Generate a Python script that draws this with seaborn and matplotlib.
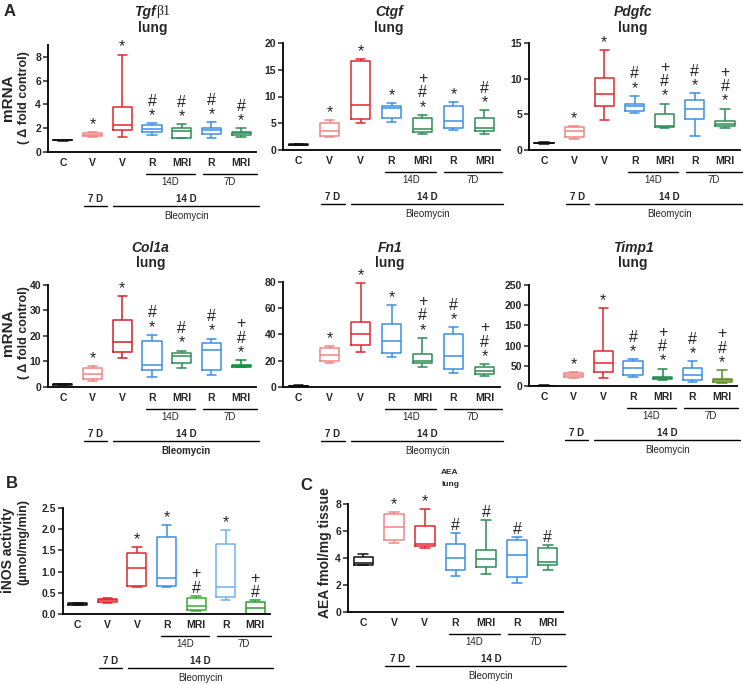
import numpy as np
import pandas as pd
import matplotlib
matplotlib.use("Agg")
import matplotlib.pyplot as plt
import matplotlib.transforms as mtransforms
import seaborn as sns

# five-number summaries (min, q1, median, q3, max) per group
groups = ["C", "V", "V", "R", "MRI", "R", "MRI"]

tgfb1 = [[0.95, 0.98, 1.0, 1.02, 1.05], [1.3, 1.35, 1.45, 1.6, 1.7], [1.3, 1.85, 2.25, 3.8, 8.2],
         [1.4, 1.65, 1.95, 2.3, 2.4], [1.15, 1.2, 1.75, 2.05, 2.35], [1.2, 1.5, 1.85, 2.05, 2.5],
         [1.3, 1.45, 1.6, 1.7, 2.0]]
ctgf = [[0.85, 0.9, 1.0, 1.1, 1.15], [2.5, 2.7, 3.5, 5.1, 5.6], [5.0, 5.8, 8.4, 16.6, 17.0],
        [5.2, 5.9, 7.8, 8.3, 8.8], [3.0, 3.3, 3.9, 5.9, 6.6], [3.7, 4.1, 5.5, 8.3, 8.9],
        [3.0, 3.6, 4.1, 5.9, 7.4]]
pdgfc = [[0.9, 0.95, 1.0, 1.05, 1.1], [1.6, 1.8, 2.7, 3.2, 3.4], [4.2, 6.1, 7.8, 10.1, 14.0],
         [5.2, 5.4, 6.1, 6.5, 7.6], [3.1, 3.2, 3.3, 5.1, 6.5], [2.0, 4.4, 5.7, 7.0, 8.0],
         [3.1, 3.3, 3.7, 4.1, 5.8]]
col1a = [[0.7, 0.85, 1.0, 1.15, 1.3], [2.3, 3.2, 5.0, 7.4, 8.3], [11.5, 13.8, 17.6, 26.3, 35.6],
         [4.0, 6.8, 8.8, 18.0, 20.5], [7.5, 9.3, 12.0, 13.2, 14.3], [4.8, 6.6, 14.4, 17.1, 19.0],
         [7.8, 8.0, 8.2, 8.7, 10.6]]
fn1 = [[0.4, 0.6, 0.8, 1.0, 1.2], [18.5, 19.5, 24.0, 30.0, 31.0], [27.0, 32.0, 40.5, 49.5, 79.0],
       [23.0, 26.0, 35.0, 48.0, 62.5], [15.0, 18.0, 19.5, 25.0, 37.5], [11.0, 14.0, 23.5, 40.5, 45.5],
       [8.0, 10.0, 12.0, 15.0, 17.5]]
timp1 = [[0.5, 0.8, 1.0, 1.2, 1.5], [20, 22, 26, 32, 35], [20, 35, 57, 87, 193],
         [22, 28, 44, 62, 67], [14, 17, 20, 23, 43], [11, 15, 26, 45, 61],
         [8, 11, 14, 17, 39]]
inos = [[0.21, 0.22, 0.24, 0.25, 0.26], [0.27, 0.29, 0.33, 0.36, 0.38], [0.64, 0.67, 1.08, 1.43, 1.57],
        [0.63, 0.65, 0.84, 1.81, 2.09], [0.08, 0.10, 0.19, 0.38, 0.43], [0.33, 0.39, 0.63, 1.66, 1.97],
        [0.0, 0.0, 0.14, 0.28, 0.32]]
aea = [[3.45, 3.5, 3.6, 4.1, 4.3], [5.1, 5.3, 6.3, 7.25, 7.4], [4.75, 4.9, 5.05, 6.4, 7.6],
       [2.65, 3.1, 4.0, 5.05, 5.85], [2.8, 3.3, 3.95, 4.6, 6.85], [2.15, 2.6, 4.2, 5.3, 5.55],
       [3.1, 3.45, 3.7, 4.75, 5.0]]

tgfb1_marks = ["", "*", "*", "#\n*", "#\n*", "#\n*", "#\n*"]
ctgf_marks = ["", "*", "*", "*", "+\n#\n*", "*", "#\n*"]
pdgfc_marks = ["", "*", "*", "#\n*", "+\n#\n*", "#\n*", "+\n#\n*"]
col1a_marks = ["", "*", "*", "#\n*", "#\n*", "#\n*", "+\n#\n*"]
fn1_marks = ["", "*", "*", "*", "+\n#\n*", "#\n*", "+\n#\n*"]
timp1_marks = ["", "*", "*", "#\n*", "+\n#\n*", "#\n*", "+\n#\n*"]
inos_marks = ["", "", "*", "*", "+\n#", "*", "+\n#"]
aea_marks = ["", "*", "*", "#", "#", "#", "#"]

base_pal = ["#111111", "#F08585", "#E3262B", "#3A8FE6", "#2E8B57", "#3A8FE6", "#2E8B57"]
col1a_pal = ["#111111", "#F08585", "#D11F2A", "#3A8FE6", "#2E8B57", "#3A8FE6", "#0F8A3A"]
timp1_pal = ["#111111", "#F08585", "#E3262B", "#3A8FE6", "#1E8C4E", "#3A8FE6", "#5C8C1E"]
inos_pal = ["#111111", "#E3262B", "#E3262B", "#3A8FE6", "#3AAA35", "#6DB3F2", "#2E9E2E"]

sns.set_theme(style="ticks")
plt.rcParams["font.family"] = ["Liberation Sans", "DejaVu Sans"]

W, H = 743, 685
fig = plt.figure(figsize=(W / 100, H / 100), dpi=100)


def add_ax(left, top, right, bottom):
    return fig.add_axes([left / W, 1 - bottom / H, (right - left) / W, (bottom - top) / H])


def ftext(x, y, s, **kw):
    fig.text(x / W, 1 - y / H, s, **kw)


def below(ax, dy):
    tr = mtransforms.blended_transform_factory(ax.transData, ax.transAxes)
    return tr + mtransforms.ScaledTranslation(0, -dy / 100, fig.dpi_scale_trans)


def draw_panel(ax, values, marks, pal, ylim, yticks, fmt="{:g}", bold_bleo=False):
    keys = [f"g{i}" for i in range(len(groups))]
    df = pd.DataFrame({"group": np.repeat(keys, 5), "value": np.concatenate(values)})
    sns.boxplot(data=df, x="group", y="value", hue="group", order=keys, hue_order=keys,
                palette=pal, fill=False, whis=(0, 100), width=0.64, linewidth=1.1,
                showfliers=False, legend=False, ax=ax)
    ax.set_xlim(-0.5, 6.5)
    ax.set_ylim(*ylim)
    ax.set_yticks(yticks)
    ax.set_yticklabels([fmt.format(t) for t in yticks], fontweight="bold", fontsize=7.5)
    ax.set_xticks(range(len(groups)))
    ax.set_xticklabels(groups, fontweight="bold", fontsize=7.5)
    ax.set_xlabel("")
    ax.set_ylabel("")
    ax.tick_params(axis="x", length=0, pad=4)
    ax.tick_params(axis="y", length=3.5, width=1.1, pad=1.5)
    for side in ["top", "right"]:
        ax.spines[side].set_visible(False)
    for side in ["left", "bottom"]:
        ax.spines[side].set_linewidth(1.3)
        ax.spines[side].set_color("black")

    for i, m in enumerate(marks):
        if m:
            ax.annotate(m, (i, values[i][4]), xytext=(0, 0), textcoords="offset points",
                        ha="center", va="bottom", fontsize=11.5, linespacing=0.95)

    # group bars under the axis
    kw = dict(color="black", lw=1.0, clip_on=False)
    ax.plot([2.8, 4.45], [0, 0], transform=below(ax, 22), **kw)
    ax.plot([4.7, 6.55], [0, 0], transform=below(ax, 22), **kw)
    ax.text(3.62, 0, "14D", transform=below(ax, 30), ha="center", va="center", fontsize=7)
    ax.text(5.62, 0, "7D", transform=below(ax, 30), ha="center", va="center", fontsize=7)
    ax.plot([0.72, 1.5], [0, 0], transform=below(ax, 54), **kw)
    ax.plot([1.7, 6.6], [0, 0], transform=below(ax, 54), **kw)
    ax.text(1.1, 0, "7 D", transform=below(ax, 47), ha="center", va="center",
            fontsize=7, fontweight="bold")
    ax.text(4.15, 0, "14 D", transform=below(ax, 47), ha="center", va="center",
            fontsize=7, fontweight="bold")
    ax.text(4.15, 0, "Bleomycin", transform=below(ax, 64), ha="center", va="center",
            fontsize=7, fontweight="bold" if bold_bleo else "normal")


# Panel A, row 1
ax1 = add_ax(48, 45, 256, 152)
draw_panel(ax1, tgfb1, tgfb1_marks, base_pal, (0, 9), [0, 2, 4, 6, 8])
ax2 = add_ax(283, 43, 500, 150)
draw_panel(ax2, ctgf, ctgf_marks, base_pal, (0, 20), [0, 5, 10, 15, 20])
ax3 = add_ax(529, 43, 740, 150)
draw_panel(ax3, pdgfc, pdgfc_marks, base_pal, (0, 15), [0, 5, 10, 15])

# Panel A, row 2
ax4 = add_ax(48, 285, 256, 387)
draw_panel(ax4, col1a, col1a_marks, col1a_pal, (0, 40), [0, 10, 20, 30, 40], bold_bleo=True)
ax5 = add_ax(283, 282, 500, 387)
draw_panel(ax5, fn1, fn1_marks, base_pal, (0, 80), [0, 20, 40, 60, 80])
ax6 = add_ax(529, 285, 737, 386)
draw_panel(ax6, timp1, timp1_marks, timp1_pal, (0, 250), [0, 50, 100, 150, 200, 250])

# Panel B and C
ax7 = add_ax(63, 508, 270, 614)
draw_panel(ax7, inos, inos_marks, inos_pal, (0, 2.5), [0, 0.5, 1.0, 1.5, 2.0, 2.5], fmt="{:.1f}")
ax8 = add_ax(348, 504, 563, 612)
draw_panel(ax8, aea, aea_marks, base_pal, (0, 8), [0, 2, 4, 6, 8])

# titles
tkw = dict(ha="center", va="center", fontsize=10, fontweight="bold")
ftext(156, 12, "Tgf", ha="right", va="center", fontsize=10, fontweight="bold", style="italic")
ftext(156, 12, "β1", ha="left", va="center", fontsize=10, family="Liberation Serif")
ftext(389, 12, "Ctgf", style="italic", **tkw)
ftext(633, 12, "Pdgfc", style="italic", **tkw)
for x in [153, 389, 633]:
    ftext(x, 28, "lung", **tkw)
ftext(150, 248, "Col1a", style="italic", **tkw)
ftext(390, 248, "Fn1", style="italic", **tkw)
ftext(633, 248, "Timp1", style="italic", **tkw)
for x in [151, 390, 633]:
    ftext(x, 263, "lung", **tkw)
ftext(450, 472, "AEA", ha="center", va="center", fontsize=6, fontweight="bold")
ftext(450, 485, "lung", ha="center", va="center", fontsize=6, fontweight="bold")

# panel letters
ftext(10, 12, "A", ha="center", va="center", fontsize=12, fontweight="bold")
ftext(12, 484, "B", ha="center", va="center", fontsize=12, fontweight="bold")
ftext(306, 485, "C", ha="center", va="center", fontsize=12, fontweight="bold")

# y labels
for yc in [98, 333]:
    ftext(8, yc, "mRNA", rotation=90, ha="center", va="center", fontsize=11, fontweight="bold")
    ftext(24, yc, "( Δ fold control)", rotation=90, ha="center", va="center",
          fontsize=9, fontweight="bold")
ftext(8, 550, "iNOS activity", rotation=90, ha="center", va="center", fontsize=10, fontweight="bold")
ftext(23, 542, "(µmol/mg/min)", rotation=90, ha="center", va="center", fontsize=9, fontweight="bold")
ftext(325, 553, "AEA fmol/mg tissue", rotation=90, ha="center", va="center",
      fontsize=10, fontweight="bold")

fig.savefig("out.png", dpi=100)
